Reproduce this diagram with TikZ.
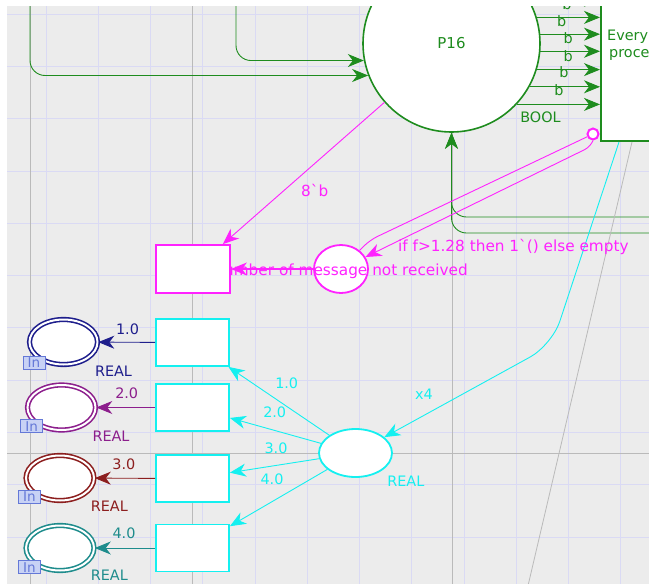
\documentclass[tikz,border=0pt]{standalone}
\usepackage{fontspec}
\setmainfont{DejaVu Sans}[Ligatures=TeXOff]
\usetikzlibrary{arrows.meta,shapes.geometric}

\definecolor{canvas}{HTML}{ECECEC}
\definecolor{gridc}{HTML}{DADAF4}
\definecolor{guide}{HTML}{BABABA}
\definecolor{netgreen}{HTML}{1E8C1E}
\definecolor{netmag}{HTML}{FF22FF}
\definecolor{netcyan}{HTML}{14F0F0}
\definecolor{navyc}{HTML}{1E1E8C}
\definecolor{purplec}{HTML}{8C1E8C}
\definecolor{redc}{HTML}{8C1E1E}
\definecolor{tealc}{HTML}{1E8C8C}
\definecolor{tagfill}{HTML}{C8D2F5}
\definecolor{tagline}{HTML}{6478D7}

\begin{document}
\begin{tikzpicture}[x=1pt,y=-1pt,
  lbl/.style={font=\fontsize{14.4}{17}\selectfont, inner sep=0pt},
  maglbl/.style={font=\fontsize{15.3}{18}\selectfont, inner sep=0pt, text=netmag},
  netarc/.style={line width=0.9pt, -{Stealth[length=16pt,width=13pt,inset=5pt]}},
  plainarc/.style={line width=0.9pt},
  placeE/.style={ellipse, draw, line width=1.8pt, fill=white, inner sep=0pt},
  transR/.style={rectangle, draw, line width=1.8pt, fill=white, inner sep=0pt},
  inplace/.style={ellipse, draw, double=white, double distance=2pt, line width=1.6pt,
    fill=white, inner sep=0pt, minimum width=68pt, minimum height=45pt},
  intag/.style={rectangle, draw=tagline, fill=tagfill, line width=0.9pt, text=tagline,
    font=\fontsize{13.5}{13.5}\selectfont, inner sep=0pt, minimum width=22pt, minimum height=13pt},
  gridline/.style={gridc, line width=0.8pt},
  guideline/.style={guide, line width=0.8pt}]

\useasboundingbox (0,0) rectangle (649,584);
\fill[white] (0,0) rectangle (649,584);

\begin{scope}
\clip (7,6) rectangle (649,584);
\fill[canvas] (7,6) rectangle (649,584);

% background grid and guide lines
\foreach \i in {0,...,11} \draw[gridline] ({46+52.25*\i},0) -- ({46+52.25*\i},584);
\foreach \j in {0,...,10} \draw[gridline] (0,{14+52.3*\j}) -- (649,{14+52.3*\j});
\draw[guideline] (30,0) -- (30,584);
\draw[guideline] (192,0) -- (192,584);
\draw[guideline] (452,0) -- (452,584);
\draw[guideline] (0,453) -- (649,453);

% places and transitions
\node[placeE, draw=netgreen, line width=1.6pt, minimum size=177pt, text=netgreen,
      font=\fontsize{15}{18}\selectfont] (P16) at (451.5,43.5) {P16};
\node[transR, draw=netgreen, anchor=south west, minimum width=150pt, minimum height=250pt] (evt) at (600,142) {};
\node[lbl, text=netgreen, anchor=base west] (evtA) at (607,40) {Every};
\node[lbl, text=netgreen, anchor=base west] (evtB) at (609,57) {proce};
\node[circle, draw=netmag, fill=white, line width=2pt, minimum size=11pt, inner sep=0pt] (inhib) at (593,134) {};

\node[placeE, draw=netmag, minimum width=54pt, minimum height=48pt] (magPlace) at (341,269) {};
\node[maglbl, anchor=base east] (msgLbl) at (468,275) {number of message not received};
\node[transR, draw=netmag, minimum width=74pt, minimum height=48pt] (magBox) at (193,269) {};

\node[placeE, draw=netcyan, minimum width=73pt, minimum height=48pt] (cyanP) at (355.5,453) {};
\node[transR, draw=netcyan, minimum width=73pt, minimum height=47pt] (box1) at (192.5,342.5) {};
\node[transR, draw=netcyan, minimum width=73pt, minimum height=47pt] (box2) at (192.5,407.5) {};
\node[transR, draw=netcyan, minimum width=73pt, minimum height=47pt] (box3) at (192.5,478.5) {};
\node[transR, draw=netcyan, minimum width=73pt, minimum height=47pt] (box4) at (192.5,548) {};

\node[inplace, draw=navyc] (navyP) at (63.5,342) {};
\node[inplace, draw=purplec] (purpleP) at (61.5,407.5) {};
\node[inplace, draw=redc] (redP) at (60,478) {};
\node[inplace, draw=tealc] (tealP) at (60,548) {};
\node[intag] (tag1) at (34,362.5) {In};
\node[intag] (tag2) at (31.7,426.2) {In};
\node[intag] (tag3) at (29.5,497) {In};
\node[intag] (tag4) at (29.5,567.2) {In};

% free ends of arcs leaving the visible area
\coordinate (inA) at (30,-20);
\coordinate (inB) at (236,-20);
\coordinate (inC) at (670,217);
\coordinate (inD) at (670,233);
\coordinate (x4bend) at (552,345);
\coordinate (magbend) at (370,240);
\coordinate (inhbend) at (590,147);
\coordinate (guideEnd) at (527,590);

% green arcs
\draw[netarc, netgreen, rounded corners=15pt] (inA) |- (P16.201);
\draw[netarc, netgreen, rounded corners=15pt] (inB) |- (P16.191);
\draw[netarc, netgreen, rounded corners=15pt] (inC) -| (P16.south);
\draw[netarc, netgreen, rounded corners=15pt] (inD) -| (P16.south);
\foreach \a in {29,17,6,-5,-17,-29,-43}
  \draw[netarc, netgreen] (P16.\a) -- (P16.\a -| evt.west);

% magenta arcs
\draw[netarc, netmag] (P16) -- ([xshift=-8pt]magBox.north east);
\draw[netarc, netmag, line width=1.2pt] (magPlace) -- (magBox);
\draw[plainarc, netmag, rounded corners=8pt] (inhib) -- (magbend) -- (magPlace);
\draw[netarc, netmag, rounded corners=6pt] (inhib.south) -- (inhbend) -- (magPlace);

% cyan arcs
\draw[guideline] ([xshift=32pt]evt.south west) -- (guideEnd);
\draw[netarc, netcyan, rounded corners=25pt] ([xshift=19pt]evt.south west) -- (x4bend) -- (cyanP);
\draw[netarc, netcyan] (cyanP) -- (box1);
\draw[netarc, netcyan] (cyanP) -- (box2);
\draw[netarc, netcyan] (cyanP) -- (box3);
\draw[netarc, netcyan] (cyanP) -- (box4);

% arcs into the input places
\draw[netarc, navyc] (box1) -- (navyP);
\draw[netarc, purplec] (box2) -- (purpleP);
\draw[netarc, redc] (box3) -- (redP);
\draw[netarc, tealc] (box4) -- (tealP);

% inscriptions
\node[lbl, text=netgreen] (b0) at (567,4) {b};
\node[lbl, text=netgreen] (b1) at (561.7,21) {b};
\node[lbl, text=netgreen] (b2) at (568.3,38.3) {b};
\node[lbl, text=netgreen] (b3) at (568.3,56) {b};
\node[lbl, text=netgreen] (b4) at (564,71.7) {b};
\node[lbl, text=netgreen] (b5) at (559,90) {b};
\node[lbl, text=netgreen] (boolT) at (540.5,117.7) {BOOL};

\node[maglbl, anchor=base west] (eightb) at (301,196) {8`b};
\node[maglbl, anchor=base west] (ifLbl) at (398,251) {if f>1.28 then 1`() else empty};

\node[lbl, text=netcyan] (x4L) at (424,394.7) {x4};
\node[lbl, text=netcyan] (realC) at (405.8,481) {REAL};
\node[lbl, text=netcyan] (c1) at (286.7,382.8) {1.0};
\node[lbl, text=netcyan] (c2) at (274.7,412) {2.0};
\node[lbl, text=netcyan] (c3) at (276,448) {3.0};
\node[lbl, text=netcyan] (c4) at (272,479) {4.0};

\node[lbl, text=navyc] (v1) at (127.5,329) {1.0};
\node[lbl, text=purplec] (v2) at (126.7,393.5) {2.0};
\node[lbl, text=redc] (v3) at (123.8,464) {3.0};
\node[lbl, text=tealc] (v4) at (124,532.8) {4.0};
\node[lbl, text=navyc] (r1) at (113.5,371.5) {REAL};
\node[lbl, text=purplec] (r2) at (111,436) {REAL};
\node[lbl, text=redc] (r3) at (109.3,506.7) {REAL};
\node[lbl, text=tealc] (r4) at (109.3,575.3) {REAL};
\end{scope}
\end{tikzpicture}
\end{document}
